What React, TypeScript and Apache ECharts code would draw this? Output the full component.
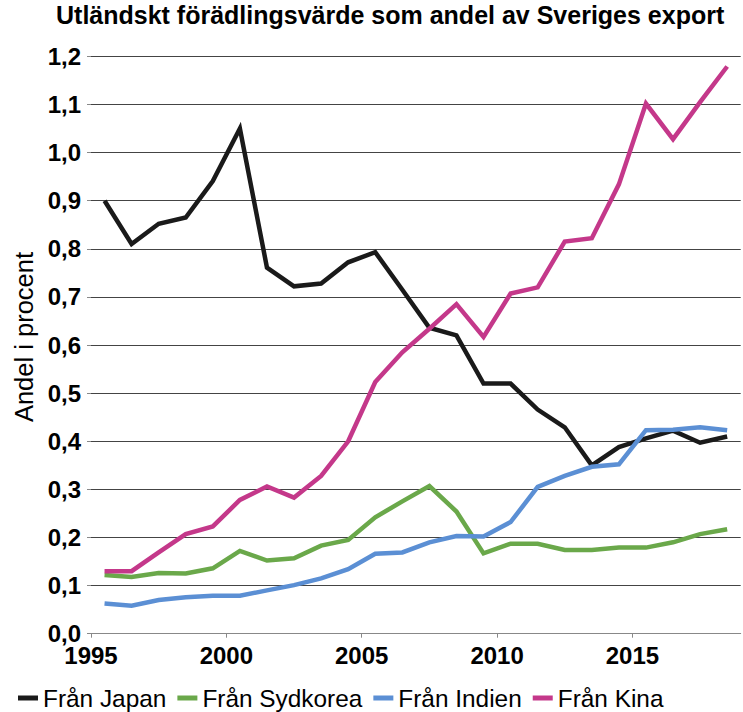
import React, { useEffect, useRef } from "react";
import * as echarts from "echarts";

const years = [1995, 1996, 1997, 1998, 1999, 2000, 2001, 2002, 2003, 2004, 2005, 2006, 2007, 2008, 2009, 2010, 2011, 2012, 2013, 2014, 2015, 2016, 2017, 2018];
const japan = [0.9, 0.81, 0.852, 0.865, 0.941, 1.05, 0.761, 0.722, 0.728, 0.772, 0.793, 0.715, 0.636, 0.62, 0.52, 0.52, 0.466, 0.429, 0.35, 0.388, 0.406, 0.422, 0.397, 0.41];
const sydkorea = [0.122, 0.118, 0.126, 0.125, 0.136, 0.172, 0.152, 0.157, 0.183, 0.195, 0.242, 0.275, 0.307, 0.254, 0.167, 0.187, 0.187, 0.174, 0.174, 0.179, 0.179, 0.19, 0.207, 0.217];
const indien = [0.063, 0.058, 0.07, 0.076, 0.079, 0.079, 0.09, 0.101, 0.115, 0.134, 0.166, 0.169, 0.19, 0.203, 0.202, 0.232, 0.305, 0.328, 0.347, 0.352, 0.423, 0.424, 0.429, 0.423];
const kina = [0.13, 0.13, 0.169, 0.207, 0.223, 0.278, 0.306, 0.283, 0.328, 0.4, 0.523, 0.585, 0.634, 0.685, 0.617, 0.707, 0.72, 0.815, 0.822, 0.934, 1.102, 1.028, 1.105, 1.179];

const seriesNames = ["Från Japan", "Från Sydkorea", "Från Indien", "Från Kina"];
const seriesValues = [japan, sydkorea, indien, kina];
const seriesColors = ["#1a1a1a", "#6aa84a", "#5b8fd4", "#c4388a"];

const titleText = "Utländskt förädlingsvärde som andel av Sveriges export";
const yName = "Andel i procent";
const FONT = '"Liberation Sans", Arial, sans-serif';

export default function App() {
  const ref = useRef<HTMLDivElement>(null);
  useEffect(() => {
    if (!ref.current) return;
    const chart = echarts.init(ref.current, undefined, { renderer: "svg" });
    chart.setOption({
      animation: false,
      backgroundColor: "#ffffff",
      textStyle: { fontFamily: FONT },
      title: {
        text: titleText,
        left: 56,
        top: 2,
        padding: 0,
        textStyle: { fontSize: 25, fontWeight: "bold", color: "#000", fontFamily: FONT },
      },
      legend: {
        left: 18,
        top: 686,
        padding: 0,
        icon: "rect",
        itemWidth: 20,
        itemHeight: 5,
        itemGap: 11,
        textStyle: { fontSize: 24.4, color: "#000", fontFamily: FONT },
        data: seriesNames,
      },
      grid: { left: 91, right: 2.3, top: 56.4, bottom: 78.3, containLabel: false },
      xAxis: {
        type: "value",
        min: 1995,
        max: 2019,
        interval: 5,
        splitLine: { show: false },
        axisLine: { show: true, lineStyle: { color: "#888", width: 1 } },
        axisTick: { show: true, length: 4, lineStyle: { color: "#888" } },
        axisLabel: {
          margin: 12,
          fontSize: 24,
          lineHeight: 20,
          fontWeight: "bold",
          color: "#000",
          fontFamily: FONT,
          showMaxLabel: false,
          formatter: (v: number) => (v % 5 === 0 && v < 2019 ? String(v) : ""),
        },
      },
      yAxis: {
        type: "value",
        min: 0,
        max: 1.2,
        interval: 0.1,
        name: yName,
        nameLocation: "middle",
        nameRotate: 90,
        nameGap: 49,
        nameTextStyle: { fontSize: 25.5, color: "#000", fontFamily: FONT, padding: [0, 0, 0, 16] },
        axisLine: { show: false },
        axisTick: { show: true, length: 4, lineStyle: { color: "#888" } },
        splitLine: { show: true, lineStyle: { color: "#444", width: 1 } },
        axisLabel: {
          margin: 10,
          fontSize: 24,
          lineHeight: 20,
          fontWeight: "bold",
          color: "#000",
          fontFamily: FONT,
          formatter: (v: number) => v.toFixed(1).replace(".", ","),
        },
      },
      series: seriesNames.map((name, i) => ({
        name,
        type: "line",
        symbol: "none",
        data: years.map((y, j) => [y + 0.5, seriesValues[i][j]]),
        lineStyle: { width: 4.5, color: seriesColors[i], join: "miter" },
        itemStyle: { color: seriesColors[i] },
      })),
    });
    return () => chart.dispose();
  }, []);
  return <div ref={ref} style={{ position: "absolute", left: 0, top: 0, width: 743, height: 712 }} />;
}
